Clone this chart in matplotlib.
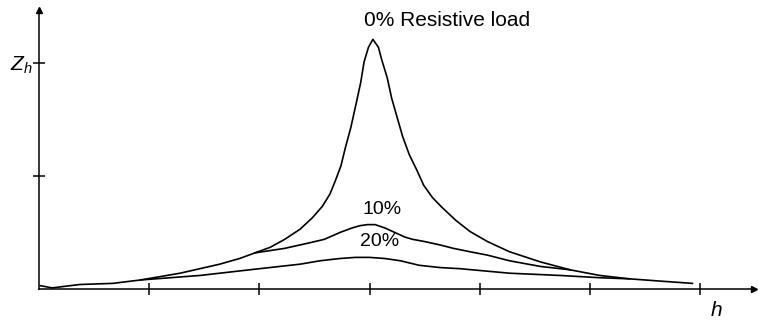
import matplotlib
matplotlib.use("Agg")
import matplotlib.pyplot as plt

plt.rcParams['font.family'] = ['Liberation Sans', 'DejaVu Sans']
plt.rcParams['mathtext.fontset'] = 'custom'
plt.rcParams['mathtext.rm'] = 'Liberation Sans'
plt.rcParams['mathtext.it'] = 'Liberation Sans:italic'

# harmonic order h (tick units) and impedance Zh (Zh tick = 2)
h_0 = [0.01, 0.12, 0.37, 0.67, 0.92, 1.28, 1.46, 1.64, 1.82, 1.96, 2.10, 2.23,
       2.37, 2.48, 2.57, 2.64, 2.69, 2.74, 2.78, 2.83, 2.88, 2.92, 2.95, 2.99,
       3.03, 3.08, 3.11, 3.16, 3.20, 3.25, 3.30, 3.36, 3.43, 3.49, 3.57, 3.66,
       3.78, 3.91, 4.07, 4.27, 4.55, 4.82, 5.09, 5.36, 5.64, 5.93]
z_0 = [0.03, 0.01, 0.04, 0.05, 0.08, 0.14, 0.18, 0.22, 0.27, 0.32, 0.37, 0.44,
       0.53, 0.63, 0.73, 0.84, 0.96, 1.09, 1.25, 1.43, 1.65, 1.83, 2.01, 2.14,
       2.21, 2.14, 2.03, 1.87, 1.69, 1.52, 1.35, 1.19, 1.05, 0.92, 0.81, 0.72,
       0.61, 0.51, 0.42, 0.33, 0.24, 0.17, 0.12, 0.09, 0.07, 0.05]

h_10 = [1.96, 2.23, 2.46, 2.59, 2.73, 2.84, 2.91, 2.98, 3.05, 3.14, 3.23,
        3.32, 3.39, 3.50, 3.64, 3.76, 3.91, 4.07, 4.27, 4.55, 4.82]
z_10 = [0.32, 0.36, 0.41, 0.44, 0.50, 0.54, 0.56, 0.57, 0.57, 0.54, 0.50,
        0.46, 0.44, 0.42, 0.39, 0.36, 0.33, 0.30, 0.25, 0.20, 0.17]

h_20 = [0.92, 1.46, 1.91, 2.37, 2.55, 2.73, 2.87, 3.00, 3.14, 3.28, 3.45,
        3.64, 3.82, 4.27, 4.73, 5.09, 5.36]
z_20 = [0.08, 0.12, 0.17, 0.22, 0.25, 0.27, 0.28, 0.28, 0.27, 0.25, 0.21,
        0.19, 0.18, 0.14, 0.12, 0.10, 0.09]

x_ticks = [1, 2, 3, 4, 5, 6]
y_ticks = [1, 2]
y_tick_labels = ['', '$Z_h$']

fig = plt.figure(figsize=(7.58, 3.21), dpi=100)
ax = fig.add_axes([0, 0, 1, 1])
ax.set_xlim(-0.354, 6.525)
ax.set_ylim(-0.283, 2.558)

lw = 1.2
ax.plot(h_0, z_0, color='black', lw=lw)
ax.plot(h_10, z_10, color='black', lw=lw)
ax.plot(h_20, z_20, color='black', lw=lw)

# axes through the origin with arrow ends
for s in ['top', 'right']:
    ax.spines[s].set_visible(False)
ax.spines['left'].set_position(('data', 0))
ax.spines['bottom'].set_position(('data', 0))
ax.spines['left'].set_bounds(0, 2.47)
ax.spines['bottom'].set_bounds(0, 6.49)
ax.spines['left'].set_linewidth(1.1)
ax.spines['bottom'].set_linewidth(1.1)
ax.plot(6.49, 0, marker='>', color='black', ms=5, clip_on=False)
ax.plot(0, 2.47, marker='^', color='black', ms=5, clip_on=False)

ax.set_xticks(x_ticks)
ax.set_xticklabels([])
ax.set_yticks(y_ticks)
ax.set_yticklabels(y_tick_labels, fontsize=15)
ax.tick_params(axis='x', direction='inout', length=9, width=1.1)
ax.tick_params(axis='y', direction='inout', length=9, width=1.1, pad=0)

ax.text(3.70, 2.38, '0% Resistive load', fontsize=15, ha='center', va='center')
ax.text(3.11, 0.70, '10%', fontsize=14, ha='center', va='center')
ax.text(3.09, 0.42, '20%', fontsize=14, ha='center', va='center')
ax.text(6.15, -0.19, 'h', fontsize=15, style='italic', ha='center', va='center')

fig.savefig('out.png', dpi=100)
